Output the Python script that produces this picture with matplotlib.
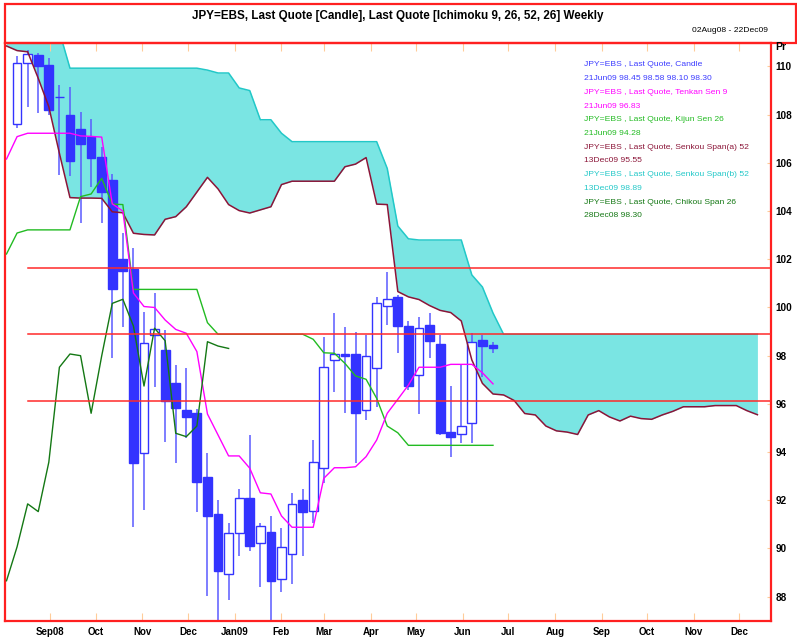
import matplotlib
matplotlib.use("Agg")
import matplotlib.pyplot as plt
import matplotlib.dates as mdates
from matplotlib.patches import Rectangle
from datetime import date, timedelta

plt.rcParams['font.family'] = ['Liberation Sans Narrow', 'Liberation Sans', 'DejaVu Sans']

# weekly candles 10Aug08 .. 21Jun09
first_week = date(2008, 8, 10)
opens = [107.60, 110.13, 110.48, 110.06, 108.72, 107.99, 107.41, 107.09, 106.26, 105.29,
         102.00, 101.60, 93.98, 98.86, 98.24, 96.85, 95.75, 95.64, 92.95, 91.43,
         88.94, 90.63, 92.08, 90.22, 90.67, 88.72, 89.76, 92.01, 91.57, 93.33,
         97.82, 98.07, 98.07, 95.75, 97.48, 100.06, 100.42, 99.23, 97.20, 99.27,
         98.47, 94.85, 94.75, 95.19, 98.65, 98.45]
highs = [110.44, 110.68, 110.57, 110.35, 109.23, 109.14, 108.12, 107.81, 106.65, 105.54,
         103.10, 102.46, 99.83, 100.59, 99.07, 97.61, 97.48, 95.80, 93.95, 92.01,
         91.05, 92.46, 94.71, 91.07, 91.35, 90.84, 92.29, 92.46, 94.49, 98.76,
         99.76, 99.20, 99.00, 98.86, 100.45, 101.49, 100.50, 99.45, 99.62, 99.78,
         98.86, 96.74, 97.61, 98.93, 98.86, 98.58]
lows = [107.44, 108.33, 108.08, 108.00, 105.50, 105.46, 103.49, 105.01, 103.49, 97.89,
        99.20, 90.90, 91.60, 96.71, 94.43, 93.53, 94.57, 91.53, 88.03, 87.03,
        87.86, 89.69, 89.90, 88.41, 87.03, 88.21, 88.52, 89.67, 91.07, 92.70,
        96.51, 95.61, 93.53, 95.33, 95.88, 99.27, 98.10, 96.58, 95.57, 97.89,
        94.71, 93.81, 94.37, 94.39, 97.13, 98.10]
closes = [110.13, 110.50, 110.02, 108.20, 108.75, 106.09, 106.78, 106.20, 104.80, 100.75,
          101.53, 93.53, 98.51, 99.12, 96.12, 95.82, 95.47, 92.75, 91.36, 89.08,
          90.63, 92.08, 90.10, 90.95, 88.66, 90.07, 91.85, 91.53, 93.58, 97.52,
          98.07, 98.00, 95.61, 97.99, 100.17, 100.34, 99.23, 96.74, 99.14, 98.62,
          94.78, 94.64, 95.08, 98.58, 98.40, 98.30]

# ichimoku lines, weekly from 03Aug08
line_start = date(2008, 8, 3)
tenkan = [106.16, 107.09, 107.23, 107.23, 107.23, 107.23, 107.23, 107.12, 107.10, 107.07,
          104.30, 104.00, 100.60, 100.04, 100.00, 99.48, 99.09, 98.93, 98.17, 95.58,
          94.71, 93.84, 93.84, 93.33, 92.31, 92.26, 91.35, 90.88, 90.88, 90.88,
          92.91, 93.35, 93.35, 93.39, 93.81, 94.50, 95.61, 96.19, 96.78, 97.52,
          97.52, 97.52, 97.64, 97.64, 97.64, 97.29, 96.83]
kijun = [102.22, 103.09, 103.22, 103.22, 103.22, 103.22, 103.22, 104.60, 104.71, 105.36,
         104.29, 104.27, 100.75, 100.75, 100.75, 100.75, 100.75, 100.75, 100.75, 99.37,
         98.89, 98.89, 98.89, 98.89, 98.89, 98.89, 98.89, 98.89, 98.89, 98.68,
         98.12, 98.10, 97.68, 97.16, 97.02, 96.23, 95.08, 94.80, 94.28, 94.28,
         94.28, 94.28, 94.28, 94.28, 94.28, 94.28, 94.28]
chikou = [88.66, 90.07, 91.85, 91.53, 93.58, 97.52, 98.07, 98.00, 95.61, 97.99,
          100.17, 100.34, 99.23, 96.74, 99.14, 98.62, 94.78, 94.64, 95.08, 98.58,
          98.40, 98.30]
senkou_a = [110.85, 110.66, 110.61, 109.51, 108.33, 106.40, 104.56, 104.54, 104.54, 104.53,
            103.97, 103.93, 103.08, 103.03, 103.01, 103.66, 103.77, 104.18, 104.79, 105.40,
            104.92, 104.27, 104.02, 103.92, 104.05, 104.18, 105.10, 105.24, 105.24, 105.24,
            105.24, 105.24, 105.84, 105.95, 106.22, 104.29, 104.27, 100.66, 100.44, 100.33,
            100.08, 99.88, 99.79, 99.44, 97.82, 96.85, 96.41, 96.37, 96.14, 95.60,
            95.54, 95.08, 94.88, 94.83, 94.73, 95.54, 95.72, 95.46, 95.29, 95.49,
            95.39, 95.36, 95.54, 95.69, 95.88, 95.88, 95.88, 95.93, 95.93, 95.93,
            95.72, 95.55]
senkou_b = [111.60, 111.60, 111.60, 111.60, 111.60, 111.45, 109.93, 109.93, 109.93, 109.93,
            109.93, 109.93, 109.93, 109.93, 109.93, 109.93, 109.93, 109.93, 109.93, 109.85,
            109.73, 109.73, 109.11, 109.00, 107.79, 107.79, 107.23, 106.88, 106.88, 106.88,
            106.88, 106.88, 106.88, 106.88, 106.88, 106.88, 105.77, 103.38, 102.85, 102.80,
            102.80, 102.80, 102.80, 102.80, 101.35, 100.85, 99.77, 98.89, 98.89, 98.89,
            98.89, 98.89, 98.89, 98.89, 98.89, 98.89, 98.89, 98.89, 98.89, 98.89,
            98.89, 98.89, 98.89, 98.89, 98.89, 98.89, 98.89, 98.89, 98.89, 98.89,
            98.89, 98.89]

levels = [101.65, 98.89, 96.13]
level_start = date(2008, 8, 17)

month_ticks = [date(2008, m, 1) for m in range(9, 13)] + [date(2009, m, 1) for m in range(1, 13)]
month_labels = ['Sep08', 'Oct', 'Nov', 'Dec', 'Jan09', 'Feb', 'Mar', 'Apr', 'May', 'Jun',
                'Jul', 'Aug', 'Sep', 'Oct', 'Nov', 'Dec']
price_ticks = list(range(88, 111, 2))

legend_names = ['Candle', 'Tenkan Sen 9', 'Kijun Sen 26', 'Senkou Span(a) 52',
                'Senkou Span(b) 52', 'Chikou Span 26']
legend_values = ['21Jun09 98.45 98.58 98.10 98.30', '21Jun09 96.83', '21Jun09 94.28',
                 '13Dec09 95.55', '13Dec09 98.89', '28Dec08 98.30']
legend_colors = ['#3c3cff', '#ff00ff', '#22bb22', '#8b1538', '#22c8c8', '#147814']

weeks = [first_week + timedelta(weeks=i) for i in range(len(opens))]
line_dates = [line_start + timedelta(weeks=i) for i in range(len(tenkan))]
chikou_dates = line_dates[:len(chikou)]
senkou_dates = [line_start + timedelta(weeks=i) for i in range(len(senkou_a))]

W, H = 797, 642
fig = plt.figure(figsize=(W / 100, H / 100), dpi=100)
ax = fig.add_axes([5 / W, (H - 621) / H, (771 - 5) / W, (621 - 43) / H])

# cloud
ax.fill_between(senkou_dates, senkou_a, senkou_b, color='#7ae5e3', lw=0, zorder=1)

# candles
ax.vlines(weeks, lows, highs, color='#5a5aff', lw=1.1, zorder=2)
for d, o, c in zip(weeks, opens, closes):
    up = c >= o
    ax.bar(d, max(abs(c - o), 0.02), bottom=min(o, c), width=5.8,
           facecolor='white' if up else '#3333ff', edgecolor='#3333ff', lw=1.0, zorder=3)

ax.plot(senkou_dates, senkou_a, color=legend_colors[3], lw=1.1, zorder=4)
ax.plot(senkou_dates, senkou_b, color=legend_colors[4], lw=1.1, zorder=4)
ax.plot(line_dates, kijun, color=legend_colors[2], lw=1.0, zorder=4)
ax.plot(line_dates, tenkan, color=legend_colors[1], lw=1.0, zorder=4)
ax.plot(chikou_dates, chikou, color=legend_colors[5], lw=1.0, zorder=4)

x_end = date(2009, 12, 22)
for lv in levels:
    ax.plot([level_start, x_end], [lv, lv], color='#ff2a2a', lw=1.1, zorder=5)

ax.set_xlim(mdates.date2num(date(2008, 8, 2)), mdates.date2num(x_end))
ax.set_ylim(86.99, 110.975)

ax.set_xticks(month_ticks)
ax.set_xticklabels(month_labels, fontweight='bold', fontsize=7)
ax.tick_params(axis='x', direction='in', length=6, color='#ffcc99', top=True, pad=4)
ax.yaxis.tick_right()
ax.set_yticks(price_ticks)
ax.set_yticklabels([str(p) for p in price_ticks], fontweight='bold', fontsize=7.2)
ax.tick_params(axis='y', direction='in', length=3, color='#ffcc99', pad=3)

for s in ax.spines.values():
    s.set_color('#ff2020')
    s.set_linewidth(1.6)

# legend text block
y0 = 65
for name, val, col in zip(legend_names, legend_values, legend_colors):
    fig.text(584 / W, 1 - y0 / H, 'JPY=EBS , Last Quote, ' + name, color=col,
             fontsize=6.1, va='center', ha='left')
    fig.text(584 / W, 1 - (y0 + 13.7) / H, val, color=col,
             fontsize=6.1, va='center', ha='left')
    y0 += 27.4

# header
fig.add_artist(Rectangle((5 / W, 1 - 43 / H), 791 / W, 39 / H, transform=fig.transFigure,
                         fill=False, ec='#ff2020', lw=1.6))
fig.text(398 / W, 1 - 16 / H,
         'JPY=EBS, Last Quote [Candle], Last Quote [Ichimoku 9, 26, 52, 26] Weekly',
         ha='center', va='center', fontsize=8.4, fontweight='bold')
fig.text(768 / W, 1 - 31 / H, '02Aug08 - 22Dec09', ha='right', va='center', fontsize=6.1)
fig.text(775 / W, 1 - 47 / H, 'Pr', ha='left', va='center', fontsize=7.5, fontweight='bold')

fig.savefig('out.png', dpi=100)
